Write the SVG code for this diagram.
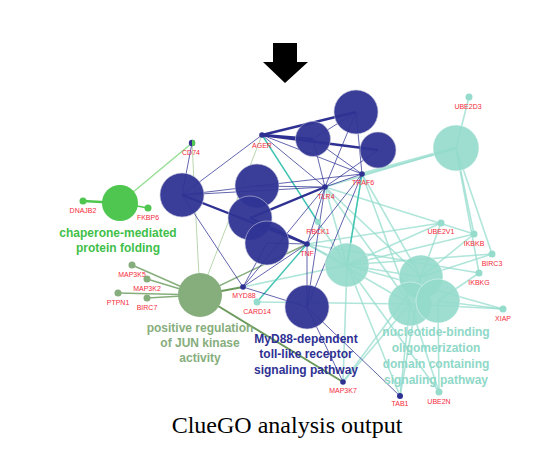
<svg xmlns="http://www.w3.org/2000/svg" width="552" height="451" viewBox="0 0 552 451">
<style>
.nv{stroke:#2e3192;fill:none;stroke-width:1;stroke-opacity:.75}
.nvt{stroke:#2e3192;fill:none;stroke-width:2.4}
.tl{stroke:#95dccd;fill:none;stroke-width:1.6;stroke-opacity:.75}
.tlb{stroke:#3ec4b2;fill:none;stroke-width:1.4}
.jg{stroke:#86ae7c;fill:none;stroke-width:1.4}
.jgt{stroke:#6c9a5c;fill:none;stroke-width:2}
.cg{stroke:#4ec64f;fill:none;stroke-width:1.4}
.lg{stroke:#b9d6b0;fill:none;stroke-width:1}
.bn{fill:#2f3493;fill-opacity:.95;stroke:#c8c8dc;stroke-width:.6}
.tn{fill:#93dacb;fill-opacity:.9;stroke:#ffffff;stroke-width:.4}
.gn{fill:#4ec64f}
.jn{fill:#86ae7c}
.gl{font-family:"Liberation Sans",Arial,sans-serif;font-size:7px;fill:#f52a3a;text-anchor:middle}
.cl{font-family:"Liberation Sans",Arial,sans-serif;font-size:12px;font-weight:bold;text-anchor:middle}
.dt{fill:#95dccd}
.db{fill:#2e3192}
</style>
<polygon id="arrow" points="273,43 297,43 297,62 308,62 285,83 263,62 273,62" fill="#000"/>
<g id="connectors">
 <line class="tl" x1="469" y1="97" x2="456" y2="148"/>
 <line class="tl" x1="456" y1="148" x2="362" y2="174" style="stroke-width:3"/>
 <line class="tl" x1="456" y1="148" x2="325" y2="187"/>
 <line class="tl" x1="456" y1="148" x2="474" y2="234"/>
 <line class="tl" x1="456" y1="148" x2="492" y2="254"/>
 <line class="tl" x1="456" y1="148" x2="479" y2="273"/>
 <line class="tl" x1="421" y1="277" x2="441" y2="223"/>
 <line class="tl" x1="421" y1="277" x2="474" y2="234"/>
 <line class="tl" x1="421" y1="277" x2="492" y2="254"/>
 <line class="tl" x1="438" y1="301" x2="479" y2="273"/>
 <line class="tl" x1="438" y1="301" x2="503" y2="309"/>
 <line class="tl" x1="410" y1="304" x2="503" y2="309"/>
 <line class="tl" x1="421" y1="277" x2="362" y2="174"/>
 <line class="tl" x1="410" y1="304" x2="362" y2="174"/>
 <line class="tl" x1="421" y1="277" x2="325" y2="187"/>
 <line class="tl" x1="410" y1="304" x2="325" y2="187"/>
 <line class="tl" x1="410" y1="304" x2="307" y2="244"/>
 <line class="tl" x1="421" y1="277" x2="347" y2="265"/>
 <line class="tl" x1="410" y1="304" x2="257" y2="302"/>
 <line class="tl" x1="410" y1="304" x2="343" y2="382"/>
 <line class="tl" x1="421" y1="277" x2="343" y2="382"/>
 <line class="tl" x1="410" y1="304" x2="400" y2="396"/>
 <line class="tl" x1="421" y1="277" x2="400" y2="396"/>
 <line class="tl" x1="410" y1="304" x2="439" y2="392"/>
 <line class="tl" x1="438" y1="301" x2="439" y2="392"/>
 <line class="tl" x1="441" y1="223" x2="347" y2="265"/>
 <line class="tl" x1="441" y1="223" x2="307" y2="244"/>
 <line class="tl" x1="474" y1="234" x2="347" y2="265"/>
 <line class="tl" x1="474" y1="234" x2="325" y2="187"/>
 <line class="tl" x1="492" y1="254" x2="347" y2="265"/>
 <line class="tl" x1="479" y1="273" x2="307" y2="244"/>
 <line class="tl" x1="503" y1="309" x2="347" y2="265"/>
 <line class="tl" x1="347" y1="265" x2="362" y2="174"/>
 <line class="tl" x1="347" y1="265" x2="325" y2="187"/>
 <line class="tl" x1="347" y1="265" x2="307" y2="244"/>
 <line class="tl" x1="347" y1="265" x2="318" y2="222"/>
 <line class="tl" x1="347" y1="265" x2="243" y2="287"/>
 <line class="tl" x1="347" y1="265" x2="343" y2="382"/>
 <line class="tl" x1="347" y1="265" x2="400" y2="396"/>
 <line class="tl" x1="347" y1="265" x2="439" y2="392"/>
 <line class="tlb" x1="307" y1="244" x2="257" y2="302"/>
 <line class="tlb" x1="262" y1="135" x2="318" y2="222"/>
 <line class="tlb" x1="362" y1="174" x2="347" y2="265"/>
 <line class="cg" x1="83" y1="201" x2="120" y2="203" style="stroke-width:2.4"/>
 <line class="cg" x1="148" y1="208" x2="120" y2="203"/>
 <line class="cg" x1="192" y1="143" x2="120" y2="203" style="stroke-opacity:.6"/>
 <line class="jg" x1="132" y1="265" x2="200" y2="295"/>
 <line class="jg" x1="147" y1="279" x2="200" y2="295"/>
 <line class="jg" x1="118" y1="293" x2="200" y2="295"/>
 <line class="jg" x1="147" y1="298" x2="200" y2="295"/>
 <line class="lg" x1="200" y1="295" x2="262" y2="135"/>
 <line class="lg" x1="200" y1="295" x2="192" y2="143"/>
 <line class="jg" x1="200" y1="295" x2="307" y2="244"/>
 <line class="jgt" x1="200" y1="295" x2="243" y2="287"/>
 <line class="jgt" x1="200" y1="295" x2="343" y2="382"/>
 <line class="nv" x1="192" y1="143" x2="182" y2="195"/>
 <line class="nv" x1="182" y1="195" x2="262" y2="135"/>
 <line class="nv" x1="182" y1="195" x2="257" y2="186"/>
 <line class="nv" x1="182" y1="195" x2="325" y2="187"/>
 <line class="nvt" x1="182" y1="195" x2="307" y2="244"/>
 <line class="nv" x1="182" y1="195" x2="243" y2="287"/>
 <line class="nvt" x1="262" y1="135" x2="356" y2="112"/>
 <line class="nvt" x1="262" y1="135" x2="313" y2="139"/>
 <line class="nvt" x1="262" y1="135" x2="378" y2="150"/>
 <line class="nv" x1="262" y1="135" x2="325" y2="187"/>
 <line class="nv" x1="262" y1="135" x2="362" y2="174"/>
 <line class="nv" x1="313" y1="139" x2="356" y2="112"/>
 <line class="nv" x1="356" y1="112" x2="325" y2="187"/>
 <line class="nv" x1="356" y1="112" x2="362" y2="174"/>
 <line class="nv" x1="313" y1="139" x2="362" y2="174"/>
 <line class="nv" x1="313" y1="139" x2="325" y2="187"/>
 <line class="nv" x1="378" y1="150" x2="325" y2="187"/>
 <line class="nv" x1="325" y1="187" x2="362" y2="174"/>
 <line class="nv" x1="257" y1="186" x2="325" y2="187"/>
 <line class="nv" x1="257" y1="186" x2="362" y2="174"/>
 <line class="nvt" x1="325" y1="187" x2="250" y2="218"/>
 <line class="nvt" x1="250" y1="218" x2="307" y2="244"/>
 <line class="nv" x1="267" y1="243" x2="307" y2="244"/>
 <line class="nv" x1="325" y1="187" x2="307" y2="244"/>
 <line class="nv" x1="362" y1="174" x2="307" y2="244"/>
 <line class="nv" x1="243" y1="287" x2="267" y2="243"/>
 <line class="nv" x1="243" y1="287" x2="307" y2="307"/>
 <line class="nv" x1="243" y1="287" x2="325" y2="187"/>
 <line class="nv" x1="243" y1="287" x2="307" y2="244"/>
 <line class="nv" x1="307" y1="307" x2="307" y2="244"/>
 <line class="nv" x1="307" y1="307" x2="325" y2="187"/>
 <line class="nv" x1="307" y1="307" x2="362" y2="174"/>
 <line class="nv" x1="307" y1="307" x2="400" y2="396"/>
 <line class="nv" x1="307" y1="307" x2="343" y2="382"/>
</g>
<g id="n-chaperone"><circle cx="120" cy="203" r="18" class="gn"/><text class="cl" x="118" y="237" fill="#3fbf4a">chaperone-mediated</text><text class="cl" x="118" y="252" fill="#3fbf4a">protein folding</text></g>
<g id="n-blue-left"><circle cx="182" cy="195" r="22" class="bn"/></g>
<g id="n-blue-top"><circle cx="356" cy="112" r="22" class="bn"/></g>
<g id="n-blue-1"><circle cx="313" cy="139" r="17.5" class="bn"/></g>
<g id="n-blue-4"><circle cx="378" cy="150" r="18" class="bn"/></g>
<g id="n-blue-5"><circle cx="257" cy="186" r="22" class="bn"/></g>
<g id="n-blue-6"><circle cx="250" cy="218" r="22" class="bn"/></g>
<g id="n-blue-7"><circle cx="267" cy="243" r="22" class="bn"/></g>
<g id="n-teal-top"><circle cx="456" cy="148" r="23" class="tn"/></g>
<g id="n-teal-mid"><circle cx="347" cy="265" r="22" class="tn"/></g>
<g id="n-nod"><circle cx="421" cy="277" r="22" class="tn"/><circle cx="410" cy="304" r="22" class="tn"/><circle cx="438" cy="301" r="22" class="tn"/>
<text class="cl" x="436" y="336" fill="#8fd8c8">nucleotide-binding</text><text class="cl" x="436" y="352" fill="#8fd8c8">oligomerization</text><text class="cl" x="436" y="368" fill="#8fd8c8">domain containing</text><text class="cl" x="436" y="384" fill="#8fd8c8">signaling pathway</text></g>
<g id="n-jun"><circle cx="200" cy="295" r="22" class="jn"/><text class="cl" x="200" y="332" fill="#86ae7c">positive regulation</text><text class="cl" x="200" y="347" fill="#86ae7c">of JUN kinase</text><text class="cl" x="200" y="362" fill="#86ae7c">activity</text></g>
<g id="n-myd88path"><circle cx="307" cy="307" r="22" class="bn"/><text class="cl" x="306" y="343" fill="#2e3192">MyD88-dependent</text><text class="cl" x="306" y="358" fill="#2e3192">toll-like receptor</text><text class="cl" x="306" y="374" fill="#2e3192">signaling pathway</text></g>
<g id="g-CD74"><circle cx="192" cy="143" r="3.2" class="db"/><path d="M192,139.8 A3.2,3.2 0 0 1 192,146.2 Z" fill="#4ec64f"/><text class="gl" x="191" y="155">CD74</text></g>
<g id="g-DNAJB2"><circle cx="83" cy="201" r="3.5" class="gn"/><text class="gl" x="83" y="213">DNAJB2</text></g>
<g id="g-FKBP6"><circle cx="148" cy="208" r="3.5" class="gn"/><text class="gl" x="148" y="220">FKBP6</text></g>
<g id="g-AGER"><circle cx="262" cy="135" r="2.8" class="db"/><text class="gl" x="262" y="148">AGER</text></g>
<g id="g-TRAF6"><circle cx="362" cy="174" r="2.8" class="db"/><text class="gl" x="363" y="185">TRAF6</text></g>
<g id="g-TLR4"><circle cx="325" cy="187" r="2.8" class="db"/><text class="gl" x="326" y="199">TLR4</text></g>
<g id="g-RBCK1"><circle cx="318" cy="222" r="3" class="dt"/><text class="gl" x="318" y="234">RBCK1</text></g>
<g id="g-TNF"><circle cx="307" cy="244" r="2.8" class="db"/><text class="gl" x="307" y="256">TNF</text></g>
<g id="g-UBE2D3"><circle cx="469" cy="97" r="3.5" class="dt"/><text class="gl" x="468" y="109">UBE2D3</text></g>
<g id="g-UBE2V1"><circle cx="441" cy="223" r="3.5" class="dt"/><text class="gl" x="441" y="234">UBE2V1</text></g>
<g id="g-IKBKB"><circle cx="474" cy="234" r="3.5" class="dt"/><text class="gl" x="474" y="246">IKBKB</text></g>
<g id="g-BIRC3"><circle cx="492" cy="254" r="3.5" class="dt"/><text class="gl" x="492" y="266">BIRC3</text></g>
<g id="g-IKBKG"><circle cx="479" cy="273" r="3.5" class="dt"/><text class="gl" x="479" y="285">IKBKG</text></g>
<g id="g-XIAP"><circle cx="503" cy="309" r="3.5" class="dt"/><text class="gl" x="503" y="321">XIAP</text></g>
<g id="g-MAP3K5"><circle cx="132" cy="265" r="3.5" class="jn"/><text class="gl" x="132" y="277">MAP3K5</text></g>
<g id="g-MAP3K2"><circle cx="147" cy="279" r="3.5" class="jn"/><text class="gl" x="147" y="291">MAP3K2</text></g>
<g id="g-PTPN1"><circle cx="118" cy="293" r="3.5" class="jn"/><text class="gl" x="118" y="305">PTPN1</text></g>
<g id="g-BIRC7"><circle cx="147" cy="298" r="3.5" class="jn"/><text class="gl" x="147" y="310">BIRC7</text></g>
<g id="g-MYD88"><circle cx="243" cy="287" r="2.8" class="db"/><text class="gl" x="244" y="298">MYD88</text></g>
<g id="g-CARD14"><circle cx="257" cy="302" r="3.5" class="dt"/><text class="gl" x="257" y="314">CARD14</text></g>
<g id="g-MAP3K7"><circle cx="343" cy="382" r="2.8" class="db"/><text class="gl" x="343" y="393">MAP3K7</text></g>
<g id="g-TAB1"><circle cx="400" cy="396" r="3" class="db"/><text class="gl" x="400" y="406">TAB1</text></g>
<g id="g-UBE2N"><circle cx="439" cy="392" r="3.5" class="dt"/><text class="gl" x="439" y="404">UBE2N</text></g>
<text id="caption" x="287" y="433" font-family="'Liberation Serif','Times New Roman',serif" font-size="24" text-anchor="middle" fill="#000">ClueGO analysis output</text>
</svg>
